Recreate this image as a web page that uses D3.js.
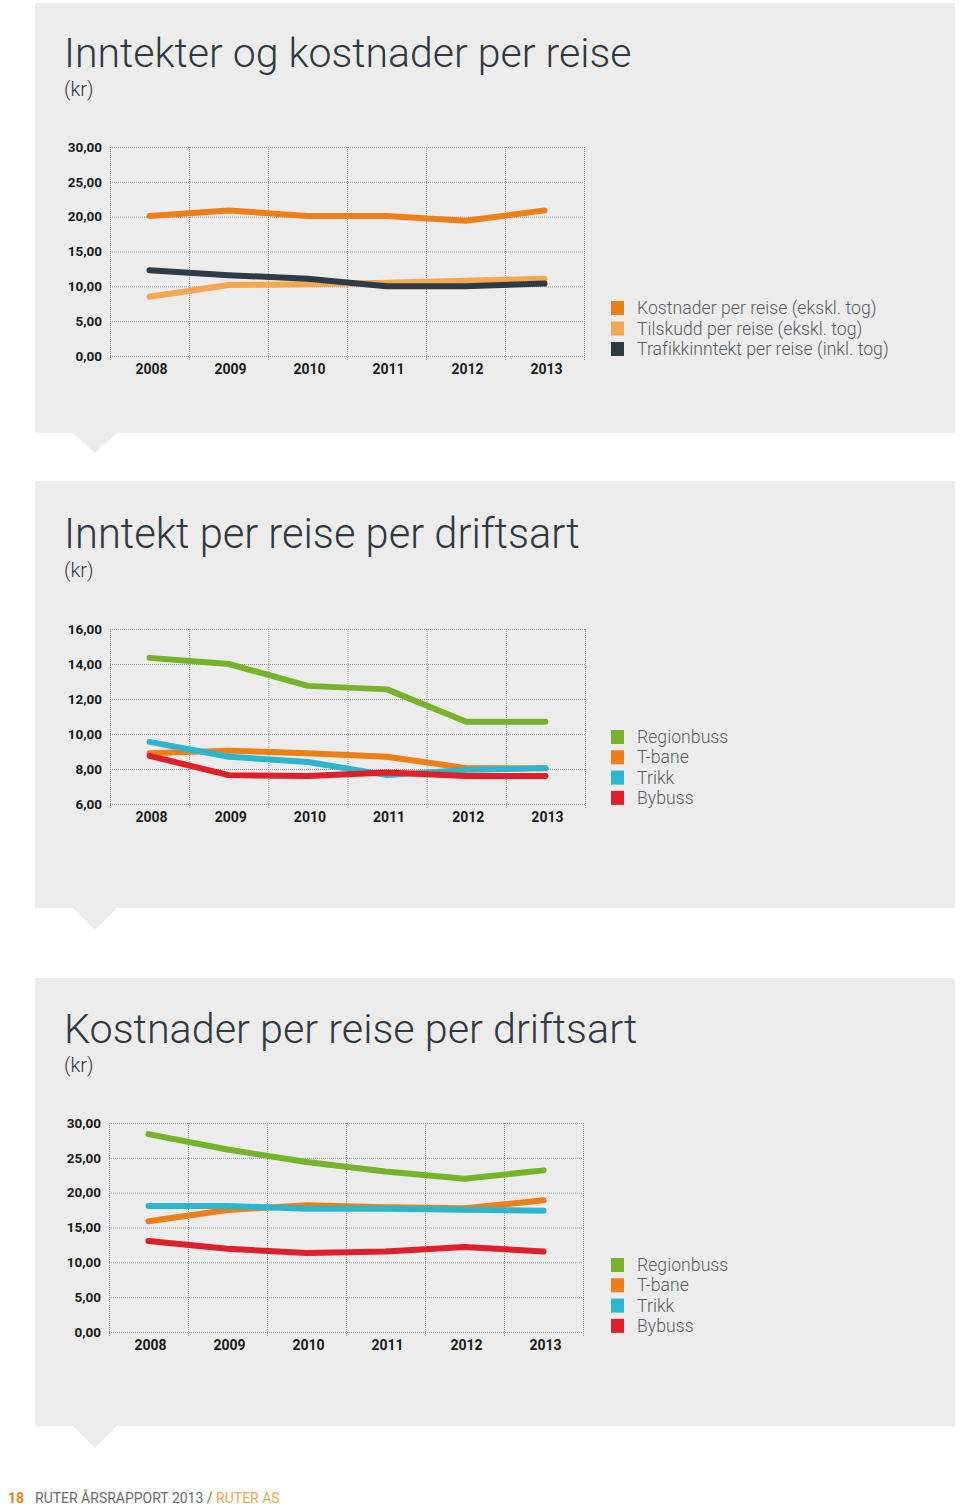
<!DOCTYPE html>
<html>
<head>
<meta charset="utf-8">
<script src="https://cdn.jsdelivr.net/npm/d3@7"></script>
<style>
  html, body { margin: 0; padding: 0; background: #ffffff; }
  svg { display: block; }
</style>
</head>
<body>
<svg id="page" width="960" height="1506"></svg>
<script>
// ---------- DATA ----------
const years = ["2008", "2009", "2010", "2011", "2012", "2013"];

// Chart 1: Inntekter og kostnader per reise (kr)
const c1Ticks = [0, 5, 10, 15, 20, 25, 30];
const c1Kostnader = [20.1, 20.9, 20.1, 20.1, 19.4, 20.9];
const c1Tilskudd = [8.5, 10.2, 10.3, 10.5, 10.8, 11.1];
const c1Trafikk = [12.3, 11.6, 11.1, 10.0, 10.0, 10.4];
const c1Labels = ["Kostnader per reise (ekskl. tog)", "Tilskudd per reise (ekskl. tog)", "Trafikkinntekt per reise (inkl. tog)"];

// Chart 2: Inntekt per reise per driftsart (kr)
const c2Ticks = [6, 8, 10, 12, 14, 16];
const c2Regionbuss = [14.35, 14.0, 12.75, 12.55, 10.7, 10.7];
const c2Tbane = [8.9, 9.05, 8.9, 8.7, 8.05, 8.05];
const c2Trikk = [9.55, 8.7, 8.4, 7.65, 7.95, 8.05];
const c2Bybuss = [8.75, 7.65, 7.6, 7.8, 7.6, 7.6];

// Chart 3: Kostnader per reise per driftsart (kr)
const c3Ticks = [0, 5, 10, 15, 20, 25, 30];
const c3Regionbuss = [28.4, 26.2, 24.4, 23.05, 22.0, 23.2];
const c3Tbane = [15.9, 17.5, 18.2, 17.9, 17.75, 18.9];
const c3Trikk = [18.1, 18.1, 17.7, 17.7, 17.55, 17.4];
const c3Bybuss = [13.05, 11.95, 11.35, 11.55, 12.2, 11.55];

const driftsart = ["Regionbuss", "T-bane", "Trikk", "Bybuss"];

// ---------- STYLE ----------
const COL = {
  orange: "#ec7f17",
  lightOrange: "#f4a751",
  dark: "#2e3a46",
  green: "#77b22b",
  cyan: "#2cb6cd",
  red: "#e01f2b"
};
const PANEL_BG = "#ececec";
const TITLE_COL = "#2f3944";
const fmt = v => d3.format(".2f")(v).replace(".", ",");

const svg = d3.select("#page");

function panel(y0, y1, tipY) {
  svg.append("rect").attr("x", 35).attr("y", y0).attr("width", 920).attr("height", y1 - y0).attr("fill", PANEL_BG);
  svg.append("path")
    .attr("d", `M73,${y1} L117,${y1} L95,${tipY} Z`)
    .attr("fill", PANEL_BG);
}

function drawChart(cfg) {
  const g = svg.append("g");
  // title
  g.append("text").attr("x", 64).attr("y", cfg.titleY)
    .attr("font-family", "Roboto, 'DejaVu Sans', sans-serif").attr("font-weight", 300)
    .attr("font-size", cfg.titleSize).attr("fill", TITLE_COL).text(cfg.title);
  g.append("text").attr("x", 64).attr("y", cfg.titleY + 29)
    .attr("font-family", "Roboto, 'DejaVu Sans', sans-serif").attr("font-weight", 300)
    .attr("font-size", 20).attr("fill", TITLE_COL).text("(kr)");

  const x = d3.scaleBand().domain(years).range([cfg.left, cfg.right]).padding(0);
  const y = d3.scaleLinear().domain(cfg.domain).range([cfg.bottom, cfg.top]);

  // horizontal grid
  g.append("g").selectAll("line").data(cfg.ticks).join("line")
    .attr("x1", cfg.left).attr("x2", cfg.right)
    .attr("y1", d => y(d) + 0.5).attr("y2", d => y(d) + 0.5)
    .attr("stroke", "#9a9a9a").attr("stroke-width", 1).attr("stroke-dasharray", "1,1");
  // vertical grid at band edges
  const edges = years.map(d => x(d)).concat([cfg.right]);
  g.append("g").selectAll("line").data(edges).join("line")
    .attr("x1", d => d + 0.5).attr("x2", d => d + 0.5)
    .attr("y1", cfg.top).attr("y2", cfg.bottom + 5)
    .attr("stroke", "#9a9a9a").attr("stroke-width", 1).attr("stroke-dasharray", "1,1");

  // y tick labels
  const yAxis = d3.axisLeft(y).tickValues(cfg.ticks).tickFormat(fmt).tickSize(0).tickPadding(8);
  const ya = g.append("g").attr("transform", `translate(${cfg.left},0)`).call(yAxis);
  ya.select(".domain").remove();
  ya.selectAll("text").attr("font-family", "Roboto, 'Liberation Sans', sans-serif")
    .attr("font-weight", 700).attr("font-size", 13.5).attr("fill", "#1a1a1a");

  // x tick labels
  const xAxis = d3.axisBottom(x).tickSize(0).tickPadding(8);
  const xa = g.append("g").attr("transform", `translate(2,${cfg.bottom})`).call(xAxis);
  xa.select(".domain").remove();
  xa.selectAll("text").attr("font-family", "Roboto, 'Liberation Sans', sans-serif")
    .attr("font-weight", 700).attr("font-size", 14).attr("fill", "#1a1a1a");

  // lines
  const line = d3.line().x((d, i) => x(years[i]) + x.bandwidth() / 2).y(d => y(d));
  cfg.series.forEach(s => {
    g.append("path").datum(s.values).attr("d", line)
      .attr("fill", "none").attr("stroke", s.color).attr("stroke-width", 6)
      .attr("stroke-linejoin", "round").attr("stroke-linecap", "round");
  });

  // legend
  const lg = g.append("g").attr("transform", `translate(611,${cfg.legendY})`);
  cfg.series.forEach((s, i) => {
    lg.append("rect").attr("x", 0).attr("y", i * cfg.legendStep - 7).attr("width", 13).attr("height", 14).attr("fill", s.color);
    lg.append("text").attr("x", 26).attr("y", i * cfg.legendStep + 6)
      .attr("font-family", "Roboto, 'DejaVu Sans', sans-serif").attr("font-weight", 300)
      .attr("font-size", 17.6).attr("letter-spacing", 0.05).attr("fill", "#555d67").text(s.label);
  });
}

// panels
panel(3, 433, 453);
panel(481, 908, 930);
panel(978, 1426, 1448);

drawChart({
  title: "Inntekter og kostnader per reise", titleY: 67, titleSize: 41,
  left: 110, right: 584, top: 147, bottom: 356, domain: [0, 30], ticks: c1Ticks,
  legendY: 308, legendStep: 20.5,
  series: [
    { label: c1Labels[0], values: c1Kostnader, color: COL.orange },
    { label: c1Labels[1], values: c1Tilskudd, color: COL.lightOrange },
    { label: c1Labels[2], values: c1Trafikk, color: COL.dark }
  ]
});

drawChart({
  title: "Inntekt per reise per driftsart", titleY: 548, titleSize: 41.6,
  left: 110, right: 585, top: 629, bottom: 804, domain: [6, 16], ticks: c2Ticks,
  legendY: 737, legendStep: 20.3,
  series: [
    { label: driftsart[0], values: c2Regionbuss, color: COL.green },
    { label: driftsart[1], values: c2Tbane, color: COL.orange },
    { label: driftsart[2], values: c2Trikk, color: COL.cyan },
    { label: driftsart[3], values: c2Bybuss, color: COL.red }
  ]
});

drawChart({
  title: "Kostnader per reise per driftsart", titleY: 1043, titleSize: 41.3,
  left: 109, right: 583, top: 1123, bottom: 1332, domain: [0, 30], ticks: c3Ticks,
  legendY: 1265, legendStep: 20.3,
  series: [
    { label: driftsart[0], values: c3Regionbuss, color: COL.green },
    { label: driftsart[1], values: c3Tbane, color: COL.orange },
    { label: driftsart[2], values: c3Trikk, color: COL.cyan },
    { label: driftsart[3], values: c3Bybuss, color: COL.red }
  ]
});

// footer
const ft = svg.append("text").attr("x", 8).attr("y", 1503)
  .attr("font-family", "Roboto, 'DejaVu Sans', sans-serif").attr("font-size", 14);
ft.append("tspan").attr("font-weight", 700).attr("fill", COL.orange).text("18");
ft.append("tspan").attr("x", 35).attr("font-weight", 400).attr("fill", "#6b6b6b").text("RUTER ÅRSRAPPORT 2013 / ");
ft.append("tspan").attr("font-weight", 400).attr("fill", "#e9a74f").text("RUTER AS");
</script>
</body>
</html>
